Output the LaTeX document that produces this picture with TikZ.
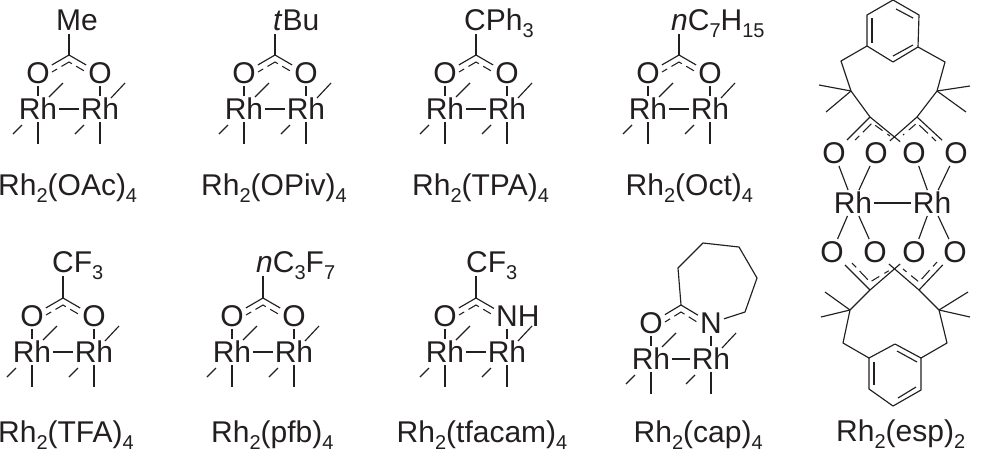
\documentclass[tikz,border=0pt]{standalone}
\usepackage{fontspec}
\setmainfont{Liberation Sans}
\definecolor{inkc}{HTML}{231F20}
\newcommand\mysb[1]{\raisebox{-0.24em}{\fontsize{20}{20}\selectfont #1}}
\tikzset{
  atom/.style={inner sep=2pt,text height=21.5pt,text depth=0pt,font=\fontsize{30}{30}\selectfont,text=inkc},
  captext/.style={anchor=base west,inner sep=0pt,text depth=0pt,font=\fontsize{30}{30}\selectfont,text=inkc},
  bond/.style={draw=inkc,line width=1.15pt},
  dashbond/.style={draw=inkc,line width=1.05pt,dash pattern=on 6pt off 5pt on 12pt off 5pt on 9pt},
  topbond/.style={bond,shorten >=4pt}
}
% prefix, x shift, y shift, right atom text, Rh-Rh spacing
\newcommand\rhcore[5]{%
\begin{scope}[shift={(#2,#3)},name prefix=#1-]
  \node[atom] (O1) at (38,73) {O};
  \node[atom] (O2) at (38+#5,73) {#4};
  \node[atom] (R1) at (38,109) {Rh};
  \node[atom] (R2) at (38+#5,109) {Rh};
  \coordinate (c) at (38+#5/2,55);
  \coordinate (i0) at (38+#5/2,62);
  \coordinate (i1) at (52,72);
  \coordinate (i2) at (24+#5,72);
  \coordinate (a1) at (49,97);
  \coordinate (a2) at (63,83);
  \coordinate (b1) at (49+#5,98);
  \coordinate (b2) at (63+#5,83);
  \coordinate (e1) at (13,134);
  \coordinate (e2) at (22,125);
  \coordinate (f1) at (13+#5,134);
  \coordinate (f2) at (22+#5,125);
  \coordinate (g1) at (38,144);
  \coordinate (g2) at (38+#5,144);
  \draw[bond] (c) -- (O1);
  \draw[bond] (c) -- (O2);
  \draw[dashbond] (i1) -- (i0) -- (i2);
  \draw[bond] (O1) -- (R1);
  \draw[bond] (O2) -- (R2);
  \draw[bond] (R1) -- (R2);
  \draw[bond] (a1) -- (a2);
  \draw[bond] (b1) -- (b2);
  \draw[bond] (e1) -- (e2);
  \draw[bond] (f1) -- (f2);
  \draw[bond] (R1.south) -- (g1);
  \draw[bond] (R2.south) -- (g2);
\end{scope}}
% prefix, x, baseline, text
\newcommand\topgroup[4]{%
  \node[captext] (#1-top) at (#2,#3) {#4};
  \draw[topbond] (#1-c) -- (#1-c |- #1-top.south);}
\newcommand\mylabel[4]{\node[captext] (#1) at (#2,#3) {#4};}
\begin{document}
\begin{tikzpicture}[x=1pt,y=-1pt]
\useasboundingbox (0,0) rectangle (984,467);
% top row
\rhcore{m1}{0}{0}{O}{62}
\topgroup{m1}{56}{30}{Me}
\mylabel{lab1}{-2}{195}{Rh\mysb{2}(OAc)\mysb{4}}
\rhcore{m2}{206}{0}{O}{62}
\topgroup{m2}{273}{30}{\textit{t}Bu}
\mylabel{lab2}{201}{195}{Rh\mysb{2}(OPiv)\mysb{4}}
\rhcore{m3}{407}{0}{O}{62}
\topgroup{m3}{464}{30}{CPh\mysb{3}}
\mylabel{lab3}{412}{195}{Rh\mysb{2}(TPA)\mysb{4}}
\rhcore{m4}{610}{0}{O}{62}
\topgroup{m4}{671}{30}{\textit{n}C\mysb{7}H\mysb{15}}
\mylabel{lab4}{625.5}{195}{Rh\mysb{2}(Oct)\mysb{4}}
% second row
\rhcore{m5}{-6}{243}{O}{62}
\topgroup{m5}{52}{272}{CF\mysb{3}}
\mylabel{lab5}{-2}{442}{Rh\mysb{2}(TFA)\mysb{4}}
\rhcore{m6}{194}{243}{O}{62}
\topgroup{m6}{256}{272}{\textit{n}C\mysb{3}F\mysb{7}}
\mylabel{lab6}{211}{442}{Rh\mysb{2}(pfb)\mysb{4}}
\rhcore{m7}{407}{243}{N\rlap{H}}{62}
\topgroup{m7}{466}{272}{CF\mysb{3}}
\mylabel{lab7}{396.5}{442}{Rh\mysb{2}(tfacam)\mysb{4}}
\rhcore{m8}{613}{250}{N}{60}
\coordinate (r1) at (678,268);
\coordinate (r2) at (703,243);
\coordinate (r3) at (739,247);
\coordinate (r4) at (757,278);
\coordinate (r5) at (745,312);
\draw[bond,line join=round] (m8-c) -- (r1) -- (r2) -- (r3) -- (r4) -- (r5) -- (m8-O2);
\mylabel{lab8}{633.5}{442}{Rh\mysb{2}(cap)\mysb{4}}
% esp
\node[atom] (eO1) at (834,153) {O};
\node[atom] (eO2) at (876,153) {O};
\node[atom] (eO3) at (914,153) {O};
\node[atom] (eO4) at (956,153) {O};
\node[atom] (eR1) at (853,203) {Rh};
\node[atom] (eR2) at (932,203) {Rh};
\node[atom] (eP1) at (832,252) {O};
\node[atom] (eP2) at (875,252) {O};
\node[atom] (eP3) at (914,252) {O};
\node[atom] (eP4) at (955,252) {O};
\foreach \a/\b in {eO1/eR1,eO2/eR1,eO3/eR2,eO4/eR2,eP1/eR1,eP2/eR1,eP3/eR2,eP4/eR2,eR1/eR2}
  \draw[bond] (\a) -- (\b);
% upper arene
\coordinate (u1) at (867,46);
\coordinate (u2) at (867,15);
\coordinate (u3) at (893,0);
\coordinate (u4) at (919,15);
\coordinate (u5) at (918,47);
\coordinate (u6) at (893,62);
\draw[bond,line join=round] (u1) -- (u2) -- (u3) -- (u4) -- (u5) -- (u6) -- cycle;
\coordinate (ua1) at (872,43); \coordinate (ua2) at (872,18);
\coordinate (ub1) at (896,9);  \coordinate (ub2) at (913,18);
\coordinate (uc1) at (893,56); \coordinate (uc2) at (913,45);
\draw[bond] (ua1) -- (ua2);
\draw[bond] (ub1) -- (ub2);
\draw[bond] (uc1) -- (uc2);
\coordinate (uL) at (841,61); \coordinate (uR) at (945,62);
\coordinate (uQ1) at (851,91); \coordinate (uQ2) at (937,91);
\coordinate (uC1) at (870,117); \coordinate (uC2) at (917,117);
\coordinate (uM1) at (819,85); \coordinate (uM2) at (826,112);
\coordinate (uM3) at (970,86); \coordinate (uM4) at (966,112);
\draw[bond,line join=round] (u1) -- (uL) -- (uQ1) -- (uC1);
\draw[bond,line join=round] (u5) -- (uR) -- (uQ2) -- (uC2);
\draw[bond] (uQ1) -- (uM1);
\draw[bond] (uQ1) -- (uM2);
\draw[bond] (uQ2) -- (uM3);
\draw[bond] (uQ2) -- (uM4);
\draw[bond] (uC1) -- (eO1);
\draw[bond] (uC1) -- (eO3);
\draw[bond] (uC2) -- (eO2);
\draw[bond] (uC2) -- (eO4);
\coordinate (ud1) at (855,140); \coordinate (ud2) at (872,123); \coordinate (ud3) at (890,136);
\coordinate (ud4) at (903,135); \coordinate (ud5) at (917,123); \coordinate (ud6) at (936,141);
\draw[dashbond] (ud1) -- (ud2) -- (ud3);
\draw[dashbond] (ud6) -- (ud5) -- (ud4);
% lower arene
\coordinate (v1) at (869,358);
\coordinate (v2) at (869,389);
\coordinate (v3) at (893,406);
\coordinate (v4) at (921,390);
\coordinate (v5) at (921,358);
\coordinate (v6) at (895,344);
\draw[bond,line join=round] (v1) -- (v2) -- (v3) -- (v4) -- (v5) -- (v6) -- cycle;
\coordinate (va1) at (874,362); \coordinate (va2) at (874,385);
\coordinate (vb1) at (897,351); \coordinate (vb2) at (917,362);
\coordinate (vc1) at (898,398); \coordinate (vc2) at (916,387);
\draw[bond] (va1) -- (va2);
\draw[bond] (vb1) -- (vb2);
\draw[bond] (vc1) -- (vc2);
\coordinate (vL) at (843,343); \coordinate (vR) at (947,343);
\coordinate (vQ1) at (850,310); \coordinate (vQ2) at (939,310);
\coordinate (vC1) at (870,290); \coordinate (vC2) at (919,290);
\coordinate (vM1) at (825,292); \coordinate (vM2) at (821,317);
\coordinate (vM3) at (968,292); \coordinate (vM4) at (970,317);
\draw[bond,line join=round] (v1) -- (vL) -- (vQ1) -- (vC1);
\draw[bond,line join=round] (v5) -- (vR) -- (vQ2) -- (vC2);
\draw[bond] (vQ1) -- (vM1);
\draw[bond] (vQ1) -- (vM2);
\draw[bond] (vQ2) -- (vM3);
\draw[bond] (vQ2) -- (vM4);
\draw[bond] (vC1) -- (eP1);
\draw[bond] (vC1) -- (eP3);
\draw[bond] (vC2) -- (eP2);
\draw[bond] (vC2) -- (eP4);
\coordinate (vd1) at (852,263); \coordinate (vd2) at (870,282); \coordinate (vd3) at (890,270);
\coordinate (vd4) at (903,269); \coordinate (vd5) at (919,282); \coordinate (vd6) at (937,262);
\draw[dashbond] (vd1) -- (vd2) -- (vd3);
\draw[dashbond] (vd6) -- (vd5) -- (vd4);
\mylabel{lab9}{836}{441}{Rh\mysb{2}(esp)\mysb{2}}
\end{tikzpicture}
\end{document}
